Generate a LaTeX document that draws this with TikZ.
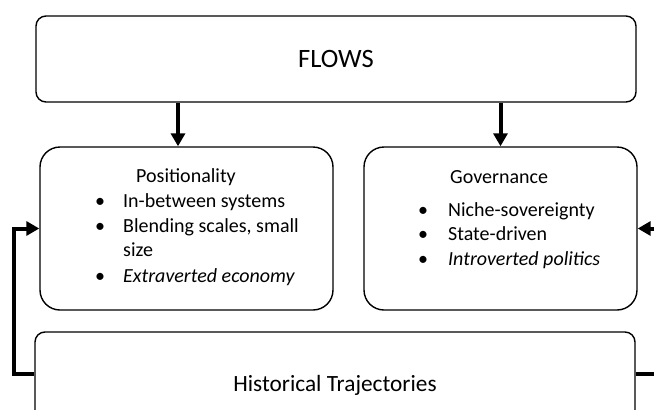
\documentclass[tikz,border=0pt]{standalone}
\usepackage{fontspec}
\setmainfont{Carlito}
\usetikzlibrary{arrows.meta}

\newcommand{\itembul}[1][28pt]{\makebox[#1][l]{•}}

\tikzset{
  box/.style={draw, line width=1.4pt, rounded corners=10pt, inner sep=0pt},
  bigbox/.style={box, rounded corners=20pt},
  flow/.style={line width=4pt, -{Triangle[length=13pt,width=14pt]}},
  item/.style={anchor=base west, inner sep=0pt, font=\fontsize{20}{24}\selectfont},
}

\begin{document}
\begin{tikzpicture}[x=1pt, y=-1pt]
\useasboundingbox (0,0) rectangle (654,410);
\clip (0,0) rectangle (654,410);

% --- top box ---
\node[box, minimum width=600pt, minimum height=86pt,
      font=\fontsize{26.5}{30}\selectfont] (flows) at (336,59) {FLOWS};

% --- middle boxes ---
\node[bigbox, minimum width=293pt, minimum height=163pt] (posit) at (186.5,228.5) {};
\node[bigbox, minimum width=273pt, minimum height=163pt] (gov) at (500.5,228.5) {};

% --- bottom box ---
\node[box, minimum width=600pt, minimum height=106pt,
      font=\fontsize{23.3}{28}\selectfont] (hist) at (335,385) {Historical Trajectories};

% --- Positionality text ---
\node[item] (ptitle) at (136,182) {Positionality};
\node[item] (p1) at (95,207) {\itembul In-between systems};
\node[item] (p2) at (95,232) {\itembul Blending scales, small};
\node[item] (p3) at (123,256) {size};
\node[item] (p4) at (95,282) {\itembul\textit{Extraverted economy}};

% --- Governance text ---
\node[item] (gtitle) at (450,183) {Governance};
\node[item] (g1) at (418,216) {\itembul[30pt]Niche-sovereignty};
\node[item] (g2) at (418,240.5) {\itembul[30pt]State-driven};
\node[item] (g3) at (418,265) {\itembul[30pt]\textit{Introverted politics}};

% --- arrows from flows ---
\coordinate (arrL) at (178,0);
\draw[flow] (flows.south -| arrL) -- (posit.north -| arrL);
\draw[flow] (flows.south -| gov.north) -- (gov.north);

% --- feedback from history ---
\coordinate (lbot) at (14,374);
\coordinate (rbot) at (662,374);
\draw[flow] (hist.west |- lbot) -| (lbot |- posit.west) -- (posit.west);
\draw[flow] (hist.east |- rbot) -| (rbot |- gov.east) -- (gov.east);

\end{tikzpicture}
\end{document}
